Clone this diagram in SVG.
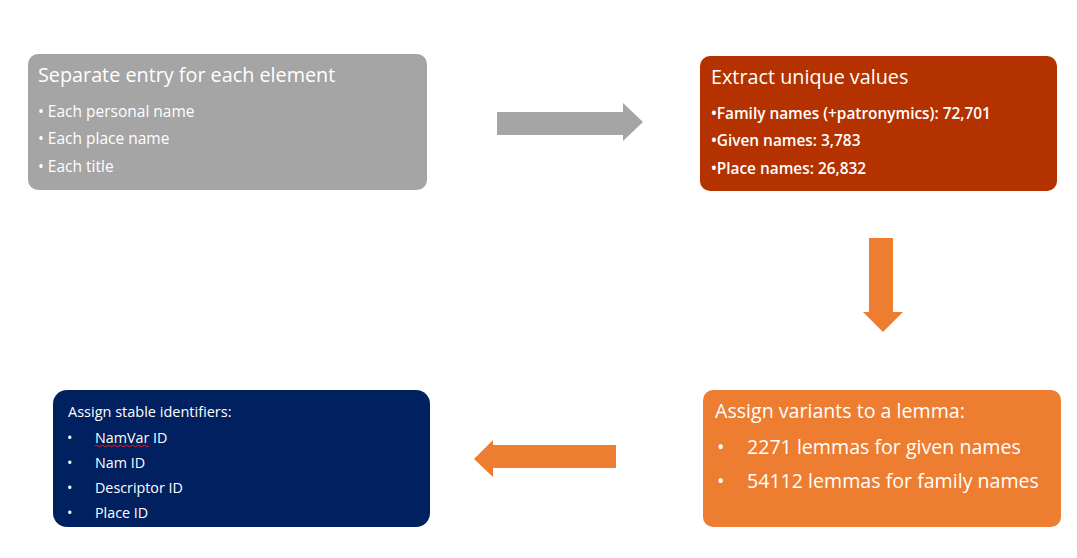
<svg xmlns="http://www.w3.org/2000/svg" width="1077" height="558" viewBox="0 0 1077 558">
<style>
text{font-family:"Open Sans","Liberation Sans",sans-serif;fill:#ffffff}
.t1{font-size:19.8px}
.b1{font-size:15.5px}
.b2{font-size:15.4px;font-weight:600}
.t3{font-size:14.5px}
.b3{font-size:14.3px}
.t4{font-size:19.6px}
.b4{font-size:19.6px}
</style>
<rect width="1077" height="558" fill="#ffffff"/>
<g id="connectors">
<polygon points="497,112 623,112 623,103 643,122 623,141 623,135 497,135" fill="#a5a5a5"/>
<polygon points="869,238 893,238 893,312 903,312 883,332 863,312 869,312" fill="#ed7d31"/>
<polygon points="616,445 493,445 493,440 474,459 493,477 493,468 616,468" fill="#ed7d31"/>
</g>
<g id="node1">
<rect x="28" y="54" width="399" height="136" rx="10" fill="#a5a5a5"/>
<text class="t1" x="38" y="82">Separate entry for each element</text>
<text class="b1" x="38" y="117">• Each personal name</text>
<text class="b1" x="38" y="144">• Each place name</text>
<text class="b1" x="38" y="172">• Each title</text>
</g>
<g id="node2">
<rect x="700" y="56" width="357" height="135" rx="10" fill="#b33200"/>
<text class="t1" x="711" y="84">Extract unique values</text>
<text class="b2" x="711" y="119">•Family names (+patronymics): 72,701</text>
<text class="b2" x="711" y="146">•Given names: 3,783</text>
<text class="b2" x="711" y="174">•Place names: 26,832</text>
</g>
<g id="node3">
<rect x="53" y="390" width="377" height="137" rx="14" fill="#002060"/>
<text class="t3" x="68" y="417">Assign stable identifiers:</text>
<text class="b3" x="67" y="443">•</text><text class="b3" x="95" y="443">NamVar ID</text>
<path d="M95,446 q1.5,-1.5 3,0 t3,0 t3,0 t3,0 t3,0 t3,0 t3,0 t3,0 t3,0 t3,0 t3,0 t3,0 t3,0 t3,0 t3,0 t3,0 t3,0 t3,0" fill="none" stroke="#e02020" stroke-width="1"/>
<text class="b3" x="67" y="468">•</text><text class="b3" x="95" y="468">Nam ID</text>
<text class="b3" x="67" y="493">•</text><text class="b3" x="95" y="493">Descriptor ID</text>
<text class="b3" x="67" y="518">•</text><text class="b3" x="95" y="518">Place ID</text>
</g>
<g id="node4">
<rect x="703" y="390" width="358" height="137" rx="10" fill="#ed7d31"/>
<text class="t4" x="715" y="418">Assign variants to a lemma:</text>
<text class="b4" x="717" y="454">•</text><text class="b4" x="747" y="454">2271 lemmas for given names</text>
<text class="b4" x="717" y="488">•</text><text class="b4" x="747" y="488">54112 lemmas for family names</text>
</g>
</svg>
